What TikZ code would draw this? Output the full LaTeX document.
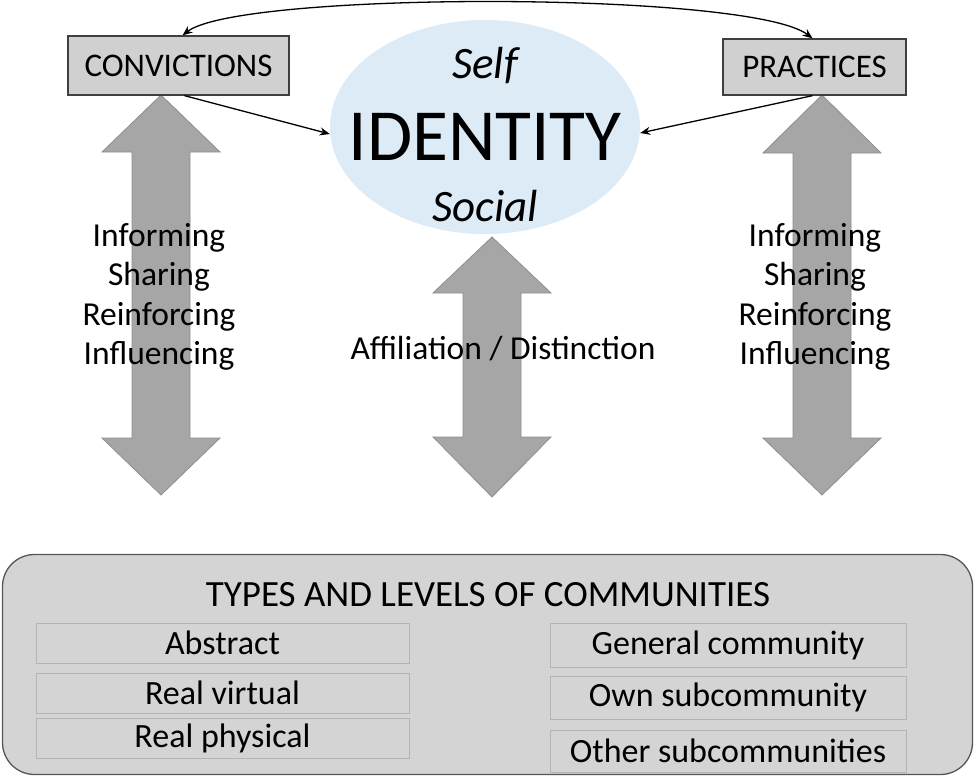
\documentclass[tikz,border=0pt]{standalone}
\usepackage{fontspec}
\setmainfont{Carlito}
\usetikzlibrary{shapes.geometric,arrows.meta}
\definecolor{boxgray}{HTML}{D0D0D0}
\definecolor{boxline}{HTML}{3F3F3F}
\definecolor{arrowfill}{HTML}{A6A6A6}
\definecolor{arrowline}{HTML}{8E8E8E}
\definecolor{ellfill}{HTML}{DDEBF7}
\definecolor{panelfill}{HTML}{D4D4D4}
\definecolor{panelline}{HTML}{555555}
\definecolor{itemline}{HTML}{B4B4B4}
\tikzset{
  topbox/.style={draw=boxline, fill=boxgray, line width=1.3pt, inner sep=0pt,
    font=\fontsize{33}{39}\selectfont},
  bigarrow/.style={fill=arrowfill, draw=arrowline, line width=0.8pt},
  conn/.style={line width=1.3pt, -{Stealth[length=10pt,width=8pt]}},
  itembox/.style={draw=itemline, line width=1pt, fill=panelfill, inner sep=0pt,
    font=\fontsize{34}{40}\selectfont},
  lbl/.style={align=center, inner sep=0pt, font=\fontsize{33.5}{39.4}\selectfont},
}
\newcommand{\dblarrowshape}[5]{% cx, top, headbase1, headbase2, bottom
  \path[bigarrow] (#1,#2) -- (#1+59,#3) -- (#1+29,#3) -- (#1+29,#4) -- (#1+59,#4)
    -- (#1,#5) -- (#1-59,#4) -- (#1-29,#4) -- (#1-29,#3) -- (#1-59,#3) -- cycle;}
\begin{document}
\begin{tikzpicture}[x=1pt,y=-1pt]
\useasboundingbox (0,0) rectangle (974,776);

% identity ellipse
\node[ellipse, fill=ellfill, minimum width=310pt, minimum height=214pt, inner sep=0pt] (ell) at (485,127) {};
\node[inner sep=0pt, font=\fontsize{45}{50}\selectfont\itshape] (self) at (485,66) {Self};
\node[inner sep=0pt, font=\fontsize{73.5}{80}\selectfont] (ident) at (485,137) {IDENTITY};
\node[inner sep=0pt, font=\fontsize{45}{50}\selectfont\itshape] (social) at (485,206) {Social};

% big double arrows
\dblarrowshape{161}{95}{152}{438}{495}
\dblarrowshape{492}{237}{293}{437}{497}
\dblarrowshape{822}{95}{153}{438}{495}

% top boxes
\node[topbox, minimum width=221pt, minimum height=59pt] (conv) at (178.5,65.5) {CONVICTIONS};
\node[topbox, minimum width=183pt, minimum height=56pt] (prac) at (814.5,67) {PRACTICES};

% connectors
\draw[line width=1.3pt, {Stealth[length=10pt,width=8pt]}-{Stealth[length=10pt,width=8pt]}]
  ([xshift=4pt]conv.north) .. controls (240,-9) and (750,-9) .. ([xshift=-2pt]prac.north);
\draw[conn] ([xshift=6pt]conv.south) -- ([yshift=-7pt]ell.west);
\draw[conn] ([xshift=-2pt]prac.south) -- ([yshift=-6pt]ell.east);

% arrow labels
\node[lbl] (leftlbl) at (159,297) {Informing\\Sharing\\Reinforcing\\Influencing};
\node[lbl] (rightlbl) at (815,297) {Informing\\Sharing\\Reinforcing\\Influencing};
\node[lbl] (midlbl) at (503,349) {Affiliation / Distinction};

% bottom panel
\node[draw=panelline, fill=panelfill, line width=1.3pt, rounded corners=32pt,
  minimum width=970pt, minimum height=220pt, inner sep=0pt] (panel) at (487.5,664.5) {};
\node[inner sep=0pt, font=\fontsize{37}{42}\selectfont] (ptitle) at (488,595) {TYPES AND LEVELS OF COMMUNITIES};

\node[itembox, minimum width=373pt, minimum height=40pt] (abs) at (222.5,643) {Abstract};
\node[itembox, minimum width=373pt, minimum height=40pt] (rv) at (222.5,693) {Real virtual};
\node[itembox, minimum width=373pt, minimum height=40pt] (rp) at (222.5,738) {Real physical};

\node[itembox, minimum width=356pt, minimum height=44pt] (gen) at (728,645) {General community};
\node[itembox, minimum width=356pt, minimum height=43pt] (own) at (728,697.5) {Own subcommunity};
\node[itembox, minimum width=356pt, minimum height=42pt] (oth) at (728,751) {Other subcommunities};
\end{tikzpicture}
\end{document}
